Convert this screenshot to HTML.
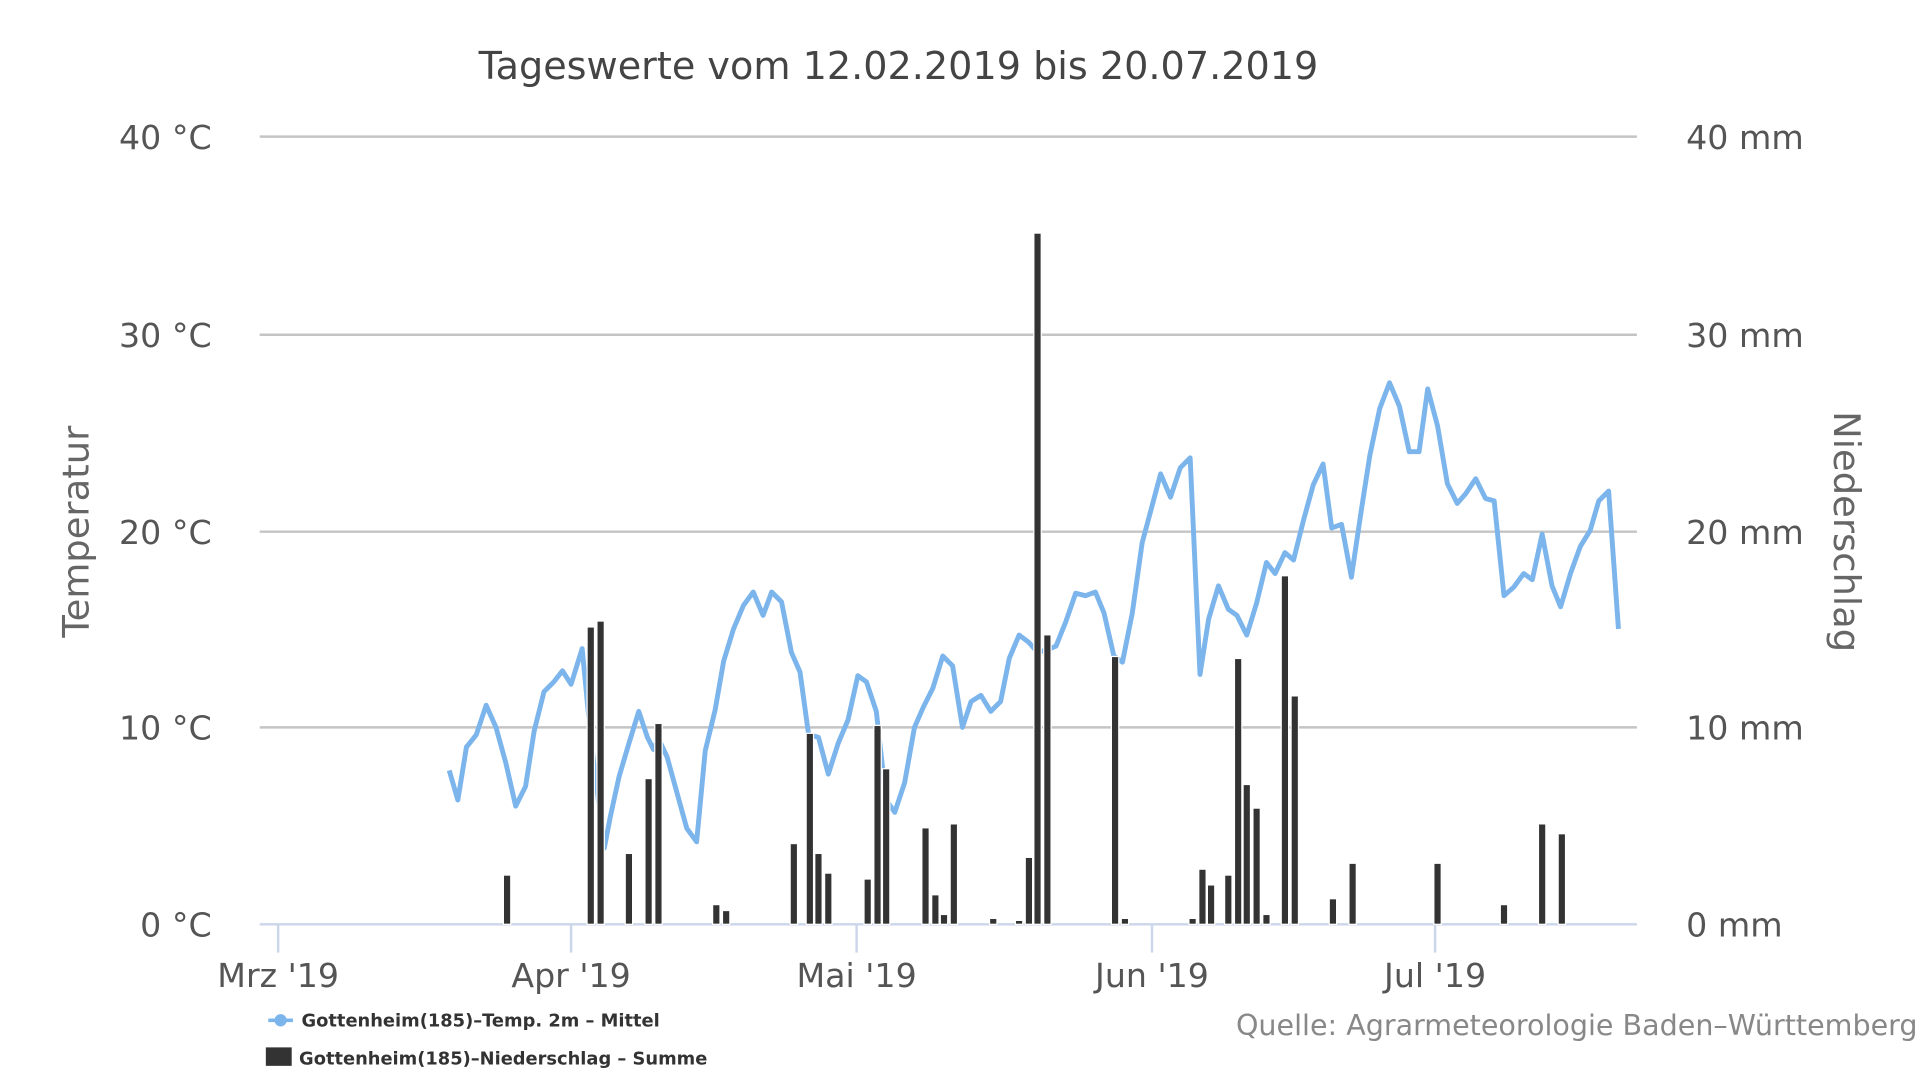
<!DOCTYPE html>
<html><head><meta charset="utf-8"><style>
html,body{margin:0;padding:0;background:#fff;width:1920px;height:1080px;overflow:hidden}
svg{display:block}
text{font-family:"DejaVu Sans","Liberation Sans",sans-serif}
</style></head><body>
<svg width="1920" height="1080" viewBox="0 0 1560 877.5" xmlns="http://www.w3.org/2000/svg">
<rect width="1560" height="877.5" fill="#fff"/>
<text x="730" y="64" text-anchor="middle" font-size="31" fill="#444">Tageswerte vom 12.02.2019 bis 20.07.2019</text>
<g stroke="#c4c4c4" stroke-width="2">
<line x1="211" y1="111" x2="1330" y2="111"/>
<line x1="211" y1="272" x2="1330" y2="272"/>
<line x1="211" y1="432" x2="1330" y2="432"/>
<line x1="211" y1="591" x2="1330" y2="591"/>
</g>
<g stroke="#ccd6eb" stroke-width="2">
<line x1="211" y1="751" x2="1330" y2="751"/>
<line x1="226" y1="751" x2="226" y2="774"/>
<line x1="464" y1="751" x2="464" y2="774"/>
<line x1="696" y1="751" x2="696" y2="774"/>
<line x1="936" y1="751" x2="936" y2="774"/>
<line x1="1166" y1="751" x2="1166" y2="774"/>
</g>
<g font-size="27" fill="#555" text-anchor="end">
<text x="172" y="121">40 °C</text>
<text x="172" y="282">30 °C</text>
<text x="172" y="442">20 °C</text>
<text x="172" y="601">10 °C</text>
<text x="172" y="761">0 °C</text>
</g>
<g font-size="27" fill="#555">
<text x="1370" y="121">40 mm</text>
<text x="1370" y="282">30 mm</text>
<text x="1370" y="442">20 mm</text>
<text x="1370" y="601">10 mm</text>
<text x="1370" y="761">0 mm</text>
</g>
<g font-size="27" fill="#555" text-anchor="middle">
<text x="226" y="802">Mrz '19</text>
<text x="464" y="802">Apr '19</text>
<text x="696" y="802">Mai '19</text>
<text x="936" y="802">Jun '19</text>
<text x="1166" y="802">Jul '19</text>
</g>
<text transform="translate(72,432) rotate(-90)" text-anchor="middle" font-size="30" fill="#666">Temperatur</text>
<text transform="translate(1490,432) rotate(90)" text-anchor="middle" font-size="30" fill="#666">Niederschlag</text>
<polyline fill="none" stroke="#7cb5ec" stroke-width="4" stroke-linejoin="round" points="365,626 372,650 379,607 387,597 395,573 403,591 411,620 419,655 427,639 434,594 442,562 450,554 457,545 464,556 473,527 480,600 491,689 496,663 503,631 511,604 519,578 526,599 531,609 535,600 542,615 550,644 558,673 566,684 573,610 581,577 588,537 596,511 604,492 612,481 620,500 627,481 635,489 643,530 650,546 657,597 665,599 673,629 681,604 689,585 697,549 704,554 712,578 720,650 727,660 735,636 743,591 750,575 758,559 766,533 774,541 782,591 789,570 797,565 805,578 813,570 820,535 828,516 836,522 843,530 851,528 858,525 866,505 874,482 882,484 890,481 897,498 905,533 912,538 920,498 928,441 935,415 943,385 951,404 959,380 967,372 975,548 982,503 990,476 998,495 1005,500 1013,516 1021,490 1029,457 1036,466 1044,449 1051,455 1059,423 1067,394 1075,377 1082,429 1090,426 1098,469 1106,415 1113,370 1121,332 1129,311 1137,330 1145,367 1153,367 1160,316 1168,346 1176,393 1184,409 1191,401 1199,389 1207,405 1214,407 1222,484 1230,477 1238,466 1245,471 1253,434 1261,476 1268,493 1276,466 1284,444 1292,431 1299,407 1307,399 1315,511"/>
<g fill="#333" stroke="#fff" stroke-width="1">
<rect x="409" y="711" width="6" height="40"/>
<rect x="477" y="509.4" width="6" height="241.6"/>
<rect x="485" y="504.6" width="6" height="246.4"/>
<rect x="508" y="693.4" width="6" height="57.6"/>
<rect x="524" y="632.6" width="6" height="118.4"/>
<rect x="532" y="587.8" width="6" height="163.2"/>
<rect x="579" y="735" width="6" height="16"/>
<rect x="587" y="739.8" width="6" height="11.2"/>
<rect x="642" y="685.4" width="6" height="65.6"/>
<rect x="655" y="595.8" width="6" height="155.2"/>
<rect x="662" y="693.4" width="6" height="57.6"/>
<rect x="670" y="709.4" width="6" height="41.6"/>
<rect x="702" y="714.2" width="6" height="36.8"/>
<rect x="710" y="589.4" width="6" height="161.6"/>
<rect x="717" y="624.6" width="6" height="126.4"/>
<rect x="749" y="672.6" width="6" height="78.4"/>
<rect x="757" y="727" width="6" height="24"/>
<rect x="764" y="743" width="6" height="8"/>
<rect x="772" y="669.4" width="6" height="81.6"/>
<rect x="804" y="746.2" width="6" height="4.8"/>
<rect x="825" y="747.8" width="6" height="3.2"/>
<rect x="833" y="696.6" width="6" height="54.4"/>
<rect x="840" y="189.4" width="6" height="561.6"/>
<rect x="848" y="515.8" width="6" height="235.2"/>
<rect x="903" y="533.4" width="6" height="217.6"/>
<rect x="911" y="746.2" width="6" height="4.8"/>
<rect x="966" y="746.2" width="6" height="4.8"/>
<rect x="974" y="706.2" width="6" height="44.8"/>
<rect x="981" y="719" width="6" height="32"/>
<rect x="995" y="711" width="6" height="40"/>
<rect x="1003" y="535" width="6" height="216"/>
<rect x="1010" y="637.4" width="6" height="113.6"/>
<rect x="1018" y="656.6" width="6" height="94.4"/>
<rect x="1026" y="743" width="6" height="8"/>
<rect x="1041" y="467.8" width="6" height="283.2"/>
<rect x="1049" y="565.4" width="6" height="185.6"/>
<rect x="1080" y="730.2" width="6" height="20.8"/>
<rect x="1096" y="701.4" width="6" height="49.6"/>
<rect x="1165" y="701.4" width="6" height="49.6"/>
<rect x="1219" y="735" width="6" height="16"/>
<rect x="1250" y="669.4" width="6" height="81.6"/>
<rect x="1266" y="677.4" width="6" height="73.6"/>
</g>
<line x1="218" y1="829" x2="238" y2="829" stroke="#7cb5ec" stroke-width="3"/>
<circle cx="228" cy="829" r="5" fill="#7cb5ec"/>
<text x="245" y="834" font-size="14.5" font-weight="bold" fill="#333">Gottenheim(185)–Temp. 2m – Mittel</text>
<rect x="216" y="851" width="21" height="15" fill="#333"/>
<text x="243" y="865" font-size="14.5" font-weight="bold" fill="#333">Gottenheim(185)–Niederschlag – Summe</text>
<text x="1558" y="841" text-anchor="end" font-size="23.2" fill="#888">Quelle: Agrarmeteorologie Baden–Württemberg</text>
</svg>
</body></html>
